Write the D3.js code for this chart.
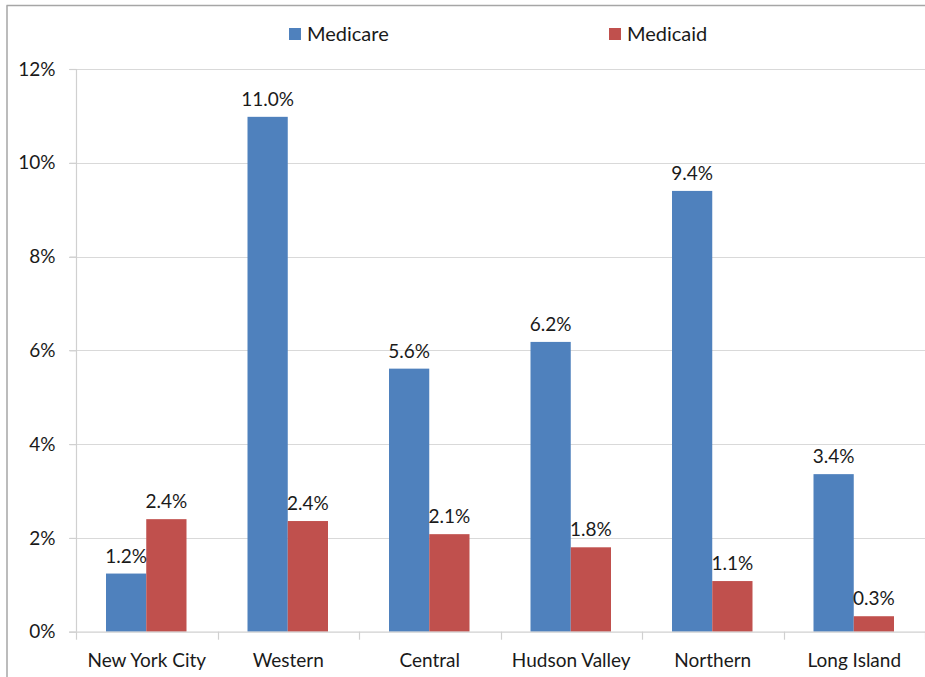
<!DOCTYPE html>
<html><head><meta charset="utf-8">
<script src="https://cdn.jsdelivr.net/npm/d3@7"></script>
<style>
html,body{margin:0;padding:0;background:#fff;}
svg{display:block;}
text{font-family:Lato,"Open Sans",sans-serif;fill:#1a1a1a;}
</style></head>
<body>
<svg id="c" width="925" height="677"></svg>
<script>
const categories = ["New York City","Western","Central","Hudson Valley","Northern","Long Island"];
const seriesNames = ["Medicare","Medicaid"];
const medicare = [1.24, 10.98, 5.61, 6.18, 9.40, 3.36];
const medicaid = [2.40, 2.36, 2.08, 1.80, 1.08, 0.33];
const yTicks = [0,2,4,6,8,10,12];
const colors = ["#4f81bd","#c0504d"];

const svg = d3.select("#c");
const W = 925, H = 677;
const FS = "19px";
const x0 = d3.scaleBand().domain(categories).range([76, 925]).paddingInner(0).paddingOuter(0);
const y = d3.scaleLinear().domain([0,12]).range([631.7, 69]);

// outer border
svg.append("line").attr("x1",6.5).attr("x2",W).attr("y1",5.5).attr("y2",5.5).attr("stroke","#a6a6a6").attr("stroke-width",1.5);
svg.append("line").attr("x1",7).attr("x2",7).attr("y1",5.5).attr("y2",H).attr("stroke","#a6a6a6").attr("stroke-width",1.5);

// gridlines
svg.append("g").selectAll("line").data(yTicks.filter(d=>d>0)).join("line")
  .attr("x1",69).attr("x2",925).attr("y1",d=>Math.round(y(d))+0.5).attr("y2",d=>Math.round(y(d))+0.5)
  .attr("stroke","#d9d9d9").attr("stroke-width",1.2);

// y axis
const yAxis = d3.axisLeft(y).tickValues(yTicks).tickSize(7).tickPadding(14).tickFormat(d=>d+"%");
const gy = svg.append("g").attr("transform","translate(76.5,0)").call(yAxis);
gy.select(".domain").attr("stroke","#d0d0d0").attr("stroke-width",1.2).attr("d",`M-0,${y(12)}V${y(0)}`);
gy.selectAll(".tick line").attr("stroke","#d0d0d0").attr("stroke-width",1.2);
gy.selectAll(".tick text").style("font-size",FS).style("font-family","Lato,sans-serif").attr("fill","#1a1a1a");

// bars
const x1 = d3.scaleBand().domain(seriesNames).range([30, x0.bandwidth()-31]);
const rows = categories.map((c,i)=>({cat:c, vals:[medicare[i], medicaid[i]]}));
const g = svg.append("g");
const grp = g.selectAll("g").data(rows).join("g").attr("transform",d=>`translate(${x0(d.cat)},0)`);
grp.selectAll("rect").data(d=>d.vals.map((v,j)=>({s:seriesNames[j],v,j}))).join("rect")
  .attr("x",d=>x1(d.s)).attr("width",x1.bandwidth())
  .attr("y",d=>y(d.v)).attr("height",d=>y(0)-y(d.v))
  .attr("fill",d=>colors[d.j]);
grp.selectAll("text.lbl").data(d=>d.vals.map((v,j)=>({s:seriesNames[j],v,j}))).join("text")
  .attr("class","lbl")
  .attr("x",d=>x1(d.s)+x1.bandwidth()/2).attr("y",d=>y(d.v)-11)
  .attr("text-anchor","middle").style("font-size",FS)
  .text(d=>d.v.toFixed(1)+"%");

// x axis
const xAxis = d3.axisBottom(x0).tickSize(0).tickPadding(22);
const gx = svg.append("g").attr("transform",`translate(0,${y(0)})`).call(xAxis);
gx.select(".domain").attr("stroke","#d0d0d0").attr("stroke-width",1.2).attr("d","M69,0.5H925");
gx.selectAll(".tick text").style("font-size",FS).style("font-family","Lato,sans-serif").attr("fill","#1a1a1a");
// category boundary ticks
const bounds = categories.map(c=>x0(c)).concat([x0.range()[1]]);
svg.append("g").selectAll("line").data(bounds).join("line")
  .attr("x1",d=>Math.round(d)+0.5).attr("x2",d=>Math.round(d)+0.5)
  .attr("y1",y(0)).attr("y2",y(0)+8).attr("stroke","#d0d0d0").attr("stroke-width",1.2);

// legend
const legX = [289, 609];
const lg = svg.append("g").selectAll("g").data(seriesNames).join("g")
  .attr("transform",(d,i)=>`translate(${legX[i]},28)`);
lg.append("rect").attr("width",12).attr("height",12).attr("fill",(d,i)=>colors[i]);
lg.append("text").attr("x",18).attr("y",13).style("font-size","20px").text(d=>d);
</script>
</body></html>
